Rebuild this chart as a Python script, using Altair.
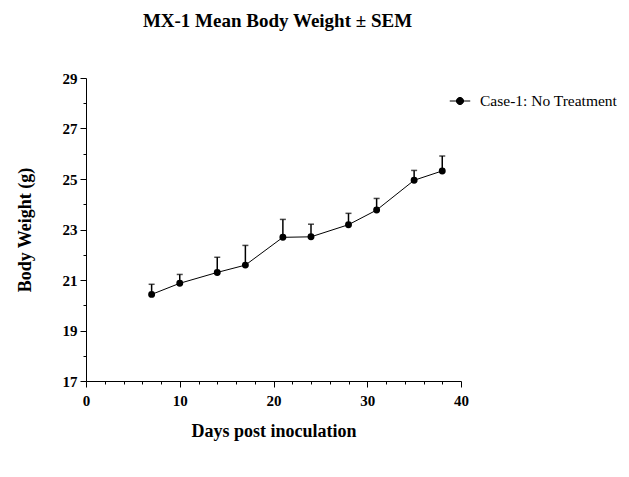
import altair as alt
import pandas as pd

# Mean body weight (g) and SEM per measurement day
days = [7, 10, 14, 17, 21, 24, 28, 31, 35, 38]
mean_weight = [20.43, 20.87, 21.30, 21.59, 22.69, 22.71, 23.19, 23.77, 24.95, 25.32]
sem = [0.40, 0.35, 0.60, 0.78, 0.71, 0.50, 0.45, 0.46, 0.39, 0.59]
series_name = "Case-1: No Treatment"

df = pd.DataFrame({
    "day": days,
    "weight": mean_weight,
    "upper": [m + s for m, s in zip(mean_weight, sem)],
    "group": [series_name] * len(days),
})

FONT = "Liberation Serif"

x_axis = alt.Axis(
    values=list(range(0, 41, 2)),
    labelExpr="datum.value % 10 == 0 ? datum.label : ''",
    tickSize={"condition": {"test": "datum.value % 10 == 0", "value": 6}, "value": 3},
    labelOverlap=False,
    labelFlush=False,
    grid=False,
    labelPadding=6,
    titlePadding=14,
)
y_axis = alt.Axis(
    values=list(range(17, 30)),
    labelExpr="datum.value % 2 == 1 ? datum.label : ''",
    tickSize={"condition": {"test": "datum.value % 2 == 1", "value": 6}, "value": 3},
    labelOverlap=False,
    labelFlush=False,
    grid=False,
    labelPadding=3,
    titlePadding=28,
)

x_scale = alt.Scale(domain=[0, 40], nice=False)
y_scale = alt.Scale(domain=[17, 29], nice=False, zero=False)
X_TITLE = "Days post inoculation"
Y_TITLE = "Body Weight (g)"

x_enc = alt.X("day:Q", title=X_TITLE, scale=x_scale, axis=x_axis)
y_enc = alt.Y("weight:Q", title=Y_TITLE, scale=y_scale, axis=y_axis)
y_upper = alt.Y("upper:Q", title=Y_TITLE, scale=y_scale, axis=y_axis)

color_enc = alt.Color(
    "group:N",
    scale=alt.Scale(domain=[series_name], range=["black"]),
    legend=alt.Legend(
        title=None,
        orient="none",
        legendX=363,
        legendY=12,
        symbolType="M-1,0L1,0M-0.35,0A0.35,0.35 0 1,1 0.35,0A0.35,0.35 0 1,1 -0.35,0Z",
        symbolSize=420,
        symbolFillColor="black",
        symbolStrokeColor="black",
        symbolStrokeWidth=1,
        labelFont=FONT,
        labelFontSize=15.5,
        labelColor="black",
        labelOffset=9,
    ),
)

base = alt.Chart(df)

line = base.mark_line(color="black", strokeWidth=1).encode(x=x_enc, y=y_enc)
err_rule = base.mark_rule(color="black", strokeWidth=1.5).encode(
    x=x_enc, y=y_enc, y2="upper:Q"
)
err_cap = base.mark_tick(color="black", thickness=1.5, size=6, orient="horizontal").encode(
    x=x_enc, y=y_upper
)
points = base.mark_point(filled=True, size=48, shape="circle", opacity=1).encode(
    x=x_enc, y=y_enc, color=color_enc
)

chart = (
    alt.layer(line, err_rule, err_cap, points)
    .properties(
        width=375,
        height=303,
        background="white",
        autosize=alt.AutoSizeParams(type="none"),
        padding={"left": 86, "top": 78, "right": 168, "bottom": 96},
        title=alt.TitleParams(
            "MX-1 Mean Body Weight \u00b1 SEM",
            font=FONT, fontSize=19, fontWeight="bold", color="black",
            anchor="middle", offset=40, dx=4,
        ),
    )
    .configure_view(stroke=None)
    .configure_axis(
        domainColor="black", tickColor="black", labelColor="black", titleColor="black",
        labelFont=FONT, titleFont=FONT, labelFontSize=15, titleFontSize=18,
        labelFontWeight="bold", titleFontWeight="bold", domainWidth=1, tickWidth=1,
    )
)

chart.save("out.html", embed_options={"renderer": "svg", "actions": False})
